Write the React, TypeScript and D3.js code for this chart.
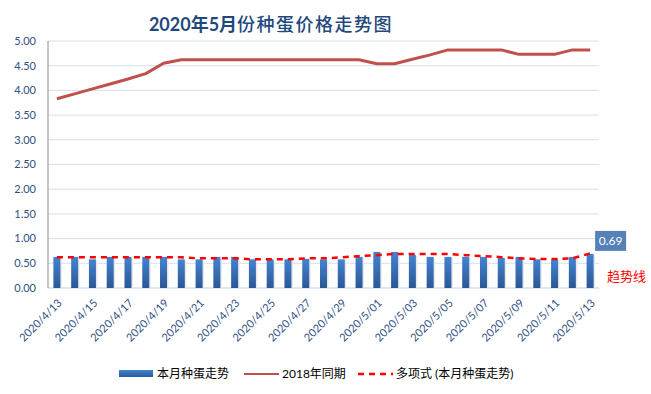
import React from "react";
import * as d3 from "d3";

const dates = [
  "2020/4/13", "2020/4/14", "2020/4/15", "2020/4/16", "2020/4/17", "2020/4/18",
  "2020/4/19", "2020/4/20", "2020/4/21", "2020/4/22", "2020/4/23", "2020/4/24",
  "2020/4/25", "2020/4/26", "2020/4/27", "2020/4/28", "2020/4/29", "2020/4/30",
  "2020/5/01", "2020/5/02", "2020/5/03", "2020/5/04", "2020/5/05", "2020/5/06",
  "2020/5/07", "2020/5/08", "2020/5/09", "2020/5/10", "2020/5/11", "2020/5/12",
  "2020/5/13",
];

// 本月种蛋走势
const current = [
  0.63, 0.63, 0.58, 0.63, 0.63, 0.63, 0.63, 0.58, 0.58, 0.63, 0.63, 0.58,
  0.58, 0.58, 0.59, 0.58, 0.58, 0.63, 0.73, 0.73, 0.67, 0.63, 0.63, 0.63,
  0.63, 0.61, 0.63, 0.58, 0.58, 0.63, 0.69,
];

// 2018年同期
const lastYear = [
  3.83, 3.93, 4.03, 4.13, 4.23, 4.34, 4.55, 4.62, 4.62, 4.62, 4.62, 4.62,
  4.62, 4.62, 4.62, 4.62, 4.62, 4.62, 4.54, 4.54, 4.63, 4.72, 4.82, 4.82,
  4.82, 4.82, 4.73, 4.73, 4.73, 4.82, 4.82,
];

// 多项式 (本月种蛋走势)
const trend = [
  0.625, 0.625, 0.625, 0.625, 0.625, 0.625, 0.625, 0.62, 0.6, 0.6, 0.6, 0.58,
  0.58, 0.58, 0.6, 0.6, 0.62, 0.645, 0.665, 0.69, 0.69, 0.69, 0.69, 0.665,
  0.645, 0.625, 0.6, 0.585, 0.585, 0.6, 0.7,
];

const yTicks = [0, 0.5, 1, 1.5, 2, 2.5, 3, 3.5, 4, 4.5, 5];

const W = 651;
const H = 394;
const left = 48;
const right = 599;
const top = 41;
const bottom = 288;

const latin = "Lato, 'Noto Sans CJK SC', sans-serif";

export default function App() {
  const x = d3.scaleBand<string>().domain(dates).range([left, right]).padding(0);
  const y = d3.scaleLinear().domain([0, 5]).range([bottom, top]);
  const cx = (d: string) => (x(d) as number) + x.bandwidth() / 2;
  const barW = 7;

  const lineLast = d3
    .line<number>()
    .x((_, i) => cx(dates[i]))
    .y((d) => y(d));

  const lastIdx = dates.length - 1;
  const lastX = cx(dates[lastIdx]);
  const lastY = y(current[lastIdx]);

  return (
    <svg
      width={W}
      height={H}
      style={{ position: "absolute", left: 0, top: 0, background: "#fff" }}
    >
      <defs>
        <linearGradient id="barGrad" x1="0" y1="0" x2="0" y2="1">
          <stop offset="0%" stopColor="#4384D2" />
          <stop offset="100%" stopColor="#2B5795" />
        </linearGradient>
      </defs>

      <text
        x={271}
        y={31}
        textAnchor="middle"
        fontFamily={latin}
        fontSize={18}
        fill="#1F497D"
      >
        <tspan fontWeight="bold">2020年5月</tspan>
        <tspan letterSpacing={1.5} fontWeight={500}>份种蛋价格走势图</tspan>
      </text>

      {yTicks.map((t) => (
        <g key={t}>
          <line
            x1={left}
            x2={right}
            y1={y(t)}
            y2={y(t)}
            stroke={t === 0 ? "#C3CFE2" : "#D6E0EE"}
            strokeWidth={1}
          />
          <text
            x={36}
            y={y(t)}
            dy="0.35em"
            textAnchor="end"
            fontFamily={latin}
            fontSize={11}
            fill="#2F4F7F"
          >
            {t.toFixed(2)}
          </text>
        </g>
      ))}
      <line x1={left} x2={left} y1={top} y2={bottom} stroke="#8C8C8C" strokeWidth={1} />

      {current.map((v, i) => (
        <g key={dates[i]}>
          <rect
            x={cx(dates[i]) - barW / 2 + 1.5}
            y={y(v) + 1}
            width={barW}
            height={bottom - y(v) - 1}
            fill="#E6E8EC"
          />
          <rect
            x={cx(dates[i]) - barW / 2}
            y={y(v)}
            width={barW}
            height={bottom - y(v)}
            fill="url(#barGrad)"
          />
        </g>
      ))}

      <path
        d={lineLast(lastYear) || ""}
        fill="none"
        stroke="#C0504D"
        strokeWidth={3}
        strokeLinejoin="round"
      />
      <path
        d={lineLast(trend) || ""}
        fill="none"
        stroke="#FF0000"
        strokeWidth={2.5}
        strokeDasharray="6,5"
      />

      {dates.map((d, i) =>
        i % 2 === 0 ? (
          <text
            key={d}
            transform={`translate(${cx(d) + 3},${301}) rotate(-45)`}
            textAnchor="end"
            dy="0.35em"
            fontFamily={latin}
            fontSize={11}
            fill="#2F4F7F"
          >
            {d}
          </text>
        ) : null
      )}

      <rect x={lastX + 5} y={lastY - 23} width={31} height={20} fill="#5580B8" />
      <text
        x={lastX + 20.5}
        y={lastY - 13}
        dy="0.35em"
        textAnchor="middle"
        fontFamily={latin}
        fontSize={12}
        fill="#fff"
      >
        {current[lastIdx].toFixed(2)}
      </text>

      <text
        x={607}
        y={276}
        dy="0.35em"
        fontFamily={latin}
        fontSize={13}
        fill="#FF0000"
      >
        趋势线
      </text>

      <g fontFamily={latin} fontSize={12} fill="#000">
        <rect x={119} y={370} width={34} height={7} fill="url(#barGrad)" />
        <text x={157} y={374} dy="0.35em">本月种蛋走势</text>
        <line x1={244} x2={279} y1={374} y2={374} stroke="#C0504D" strokeWidth={2} />
        <text x={282} y={374} dy="0.35em">2018年同期</text>
        <line
          x1={358}
          x2={393}
          y1={374}
          y2={374}
          stroke="#FF0000"
          strokeWidth={2.5}
          strokeDasharray="6,5"
        />
        <text x={396} y={374} dy="0.35em">多项式 (本月种蛋走势)</text>
      </g>
    </svg>
  );
}
